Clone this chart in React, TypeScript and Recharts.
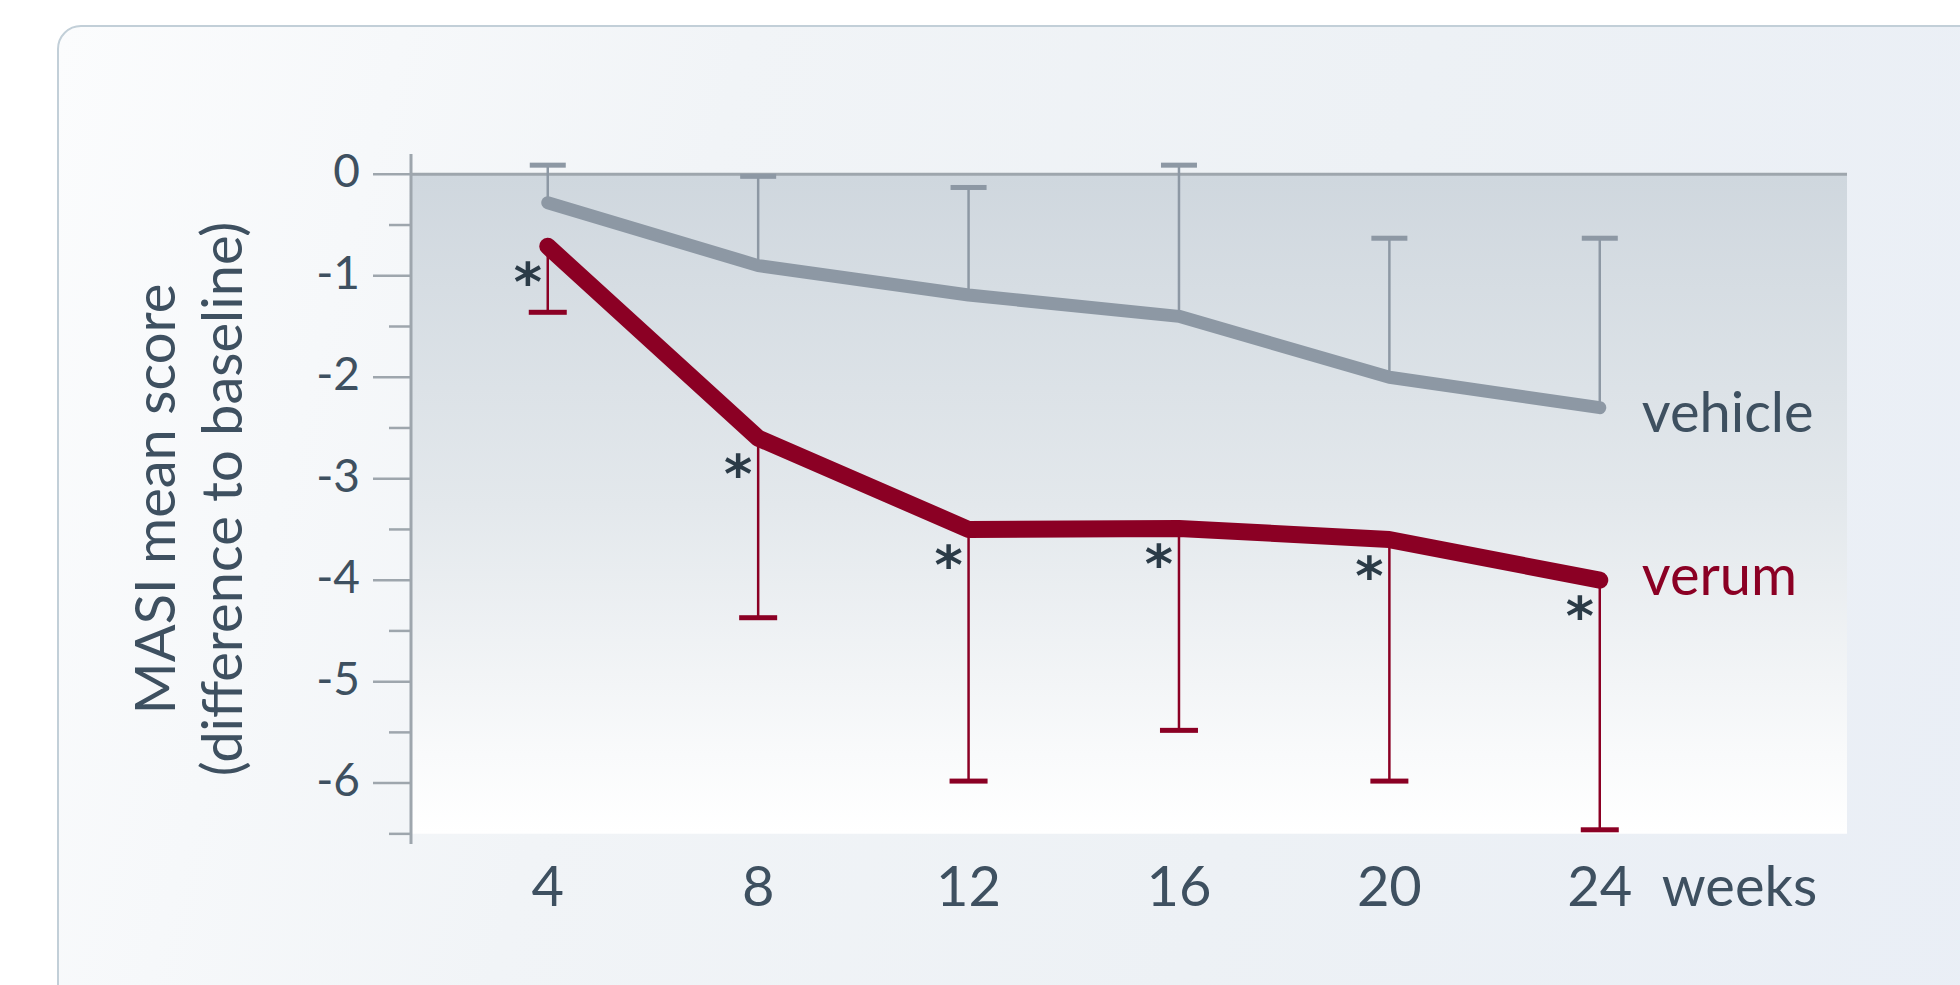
import React from 'react';
import {
  ComposedChart, Line, Scatter, XAxis, YAxis, ErrorBar, ReferenceArea, ReferenceLine, LabelList
} from 'recharts';

// weeks of treatment
const weeks = [4, 8, 12, 16, 20, 24];
// MASI mean score change
const vehicleMean = [-0.28, -0.9, -1.19, -1.4, -2.0, -2.3];
const vehicleUpper = [0.09, -0.02, -0.13, 0.09, -0.63, -0.63];
const verumMean = [-0.71, -2.6, -3.5, -3.49, -3.6, -4.0];
const verumLower = [-1.36, -4.37, -5.98, -5.48, -5.98, -6.46];

const xTicks = [4, 8, 12, 16, 20, 24];
const yTicks = [0, -0.5, -1, -1.5, -2, -2.5, -3, -3.5, -4, -4.5, -5, -5.5, -6, -6.5];

const TEXT = '#3e5060';
const AXIS = '#9ea6ad';
const VEHICLE = '#8d98a4';
const VERUM = '#8b0024';
const FONT = 'Lato, "Open Sans", sans-serif';

const data = weeks.map((w, i) => ({
  week: w,
  vehicle: vehicleMean[i],
  vehicleCap: vehicleUpper[i],
  vehicleErr: [0, vehicleUpper[i] - vehicleMean[i]],
  verum: verumMean[i],
  verumCap: verumLower[i],
  verumErr: [verumMean[i] - verumLower[i], 0],
}));

const YTick = ({ x, y, payload }: any) => {
  const major = Number.isInteger(payload.value);
  return (
    <g>
      <line x1={x - (major ? 38 : 22)} x2={x} y1={y} y2={y} stroke={AXIS} strokeWidth={2.5} />
      {major && (
        <text x={x - 51} y={y + 13} textAnchor="end" fontSize={46} fill={TEXT} fontFamily={FONT}>
          {payload.value === 0 ? '0' : `-${Math.abs(payload.value)}`}
        </text>
      )}
    </g>
  );
};

const XTick = ({ x, y, payload }: any) => (
  <g>
    <text x={x} y={y + 62} textAnchor="middle" fontSize={56} fill={TEXT} fontFamily={FONT}>
      {payload.value}
    </text>
    {payload.value === 24 && (
      <text x={x + 62} y={y + 62} textAnchor="start" fontSize={56} fill={TEXT} fontFamily={FONT}>
        weeks
      </text>
    )}
  </g>
);

const YTitle = ({ viewBox }: any) => {
  const cy = viewBox.y + viewBox.height / 2;
  const cx = 175;
  return (
    <text transform={`rotate(-90, ${cx}, ${cy})`} x={cx} y={cy} textAnchor="middle" fontSize={56} fill={TEXT} fontFamily={FONT}>
      <tspan x={cx} y={cy}>MASI mean score</tspan>
      <tspan x={cx} y={cy + 67}>(difference to baseline)</tspan>
    </text>
  );
};

const endLabel = (name: string, color: string, dy: number) => (props: any) => {
  if (props.index !== weeks.length - 1) return null;
  return (
    <text x={props.x + 42} y={props.y + dy} fontSize={56} fill={color} fontFamily={FONT}>
      {name}
    </text>
  );
};

const Asterisk = (props: any) => (
  <text x={props.x - 20} y={props.y + 55} textAnchor="middle" fontSize={54} fontWeight={700} fill="#2b3b47" fontFamily="'DejaVu Sans', sans-serif">
    *
  </text>
);

const capShape = (color: string, w: number) => (p: any) => (
  <rect x={p.cx - w / 2} y={p.cy - 2.5} width={w} height={5} fill={color} />
);

export default function App() {
  return (
    <div style={{ position: 'absolute', left: 0, top: 0, width: 1960, height: 985, overflow: 'hidden', background: '#ffffff' }}>
      <div
        style={{
          position: 'absolute', left: 57, top: 25, width: 2000, height: 1100, borderRadius: 24,
          border: '2px solid #c2cfd8',
          background: 'linear-gradient(105deg, #fbfcfd 0%, #f1f4f7 30%, #edf1f5 60%, #e9eef6 100%)',
        }}
      />
      <div style={{ position: 'absolute', left: 0, top: 0 }}>
        <ComposedChart width={1960} height={985} data={data} margin={{ top: 154, right: 113, bottom: 61, left: 0 }}>
          <defs>
            <linearGradient id="plotGrad" x1="0" y1="0" x2="0" y2="1">
              <stop offset="0%" stopColor="#cfd7de" />
              <stop offset="50%" stopColor="#e3e8ec" />
              <stop offset="88%" stopColor="#f9fafb" />
              <stop offset="100%" stopColor="#ffffff" />
            </linearGradient>
          </defs>
          <XAxis
            dataKey="week" type="number" domain={[1.4, 28.7]} ticks={xTicks}
            axisLine={false} tickLine={false} tickSize={0} tickMargin={0} height={80}
            tick={<XTick />} interval={0}
          />
          <YAxis
            type="number" domain={[-6.6, 0.2]} ticks={yTicks} width={411} interval={0}
            axisLine={{ stroke: AXIS, strokeWidth: 3 }} tickLine={false} tickSize={0} tickMargin={0}
            tick={<YTick />} label={{ content: <YTitle /> }}
          />
          <ReferenceArea y1={-6.5} y2={0} fill="url(#plotGrad)" fillOpacity={1} stroke="none" ifOverflow="visible" />
          <ReferenceLine y={0} stroke={AXIS} strokeWidth={3} />

          <Line
            dataKey="vehicle" stroke={VEHICLE} strokeWidth={13} strokeLinecap="round" strokeLinejoin="round"
            dot={false} activeDot={false} isAnimationActive={false}
          >
            <ErrorBar dataKey="vehicleErr" direction="y" width={0} stroke={VEHICLE} strokeWidth={2.5} />
            <LabelList dataKey="vehicle" content={endLabel('vehicle', TEXT, 24)} />
          </Line>
          <Scatter dataKey="vehicleCap" shape={capShape(VEHICLE, 36)} isAnimationActive={false} />

          <Line
            dataKey="verum" stroke={VERUM} strokeWidth={17} strokeLinecap="round" strokeLinejoin="round"
            dot={false} activeDot={false} isAnimationActive={false}
          >
            <ErrorBar dataKey="verumErr" direction="y" width={0} stroke={VERUM} strokeWidth={2.5} />
            <LabelList dataKey="verum" content={endLabel('verum', VERUM, 15)} />
            <LabelList dataKey="verum" content={<Asterisk />} />
          </Line>
          <Scatter dataKey="verumCap" shape={capShape(VERUM, 38)} isAnimationActive={false} />
        </ComposedChart>
      </div>
    </div>
  );
}
